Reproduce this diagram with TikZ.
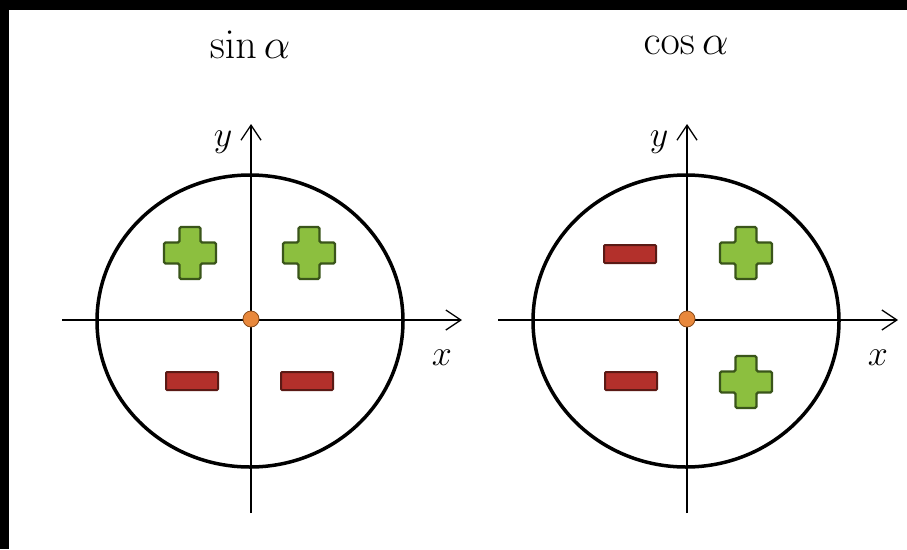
\RequirePackage{fix-cm}
\documentclass[tikz,border=0pt]{standalone}
\usepackage{amsmath}
\usepackage{tikz}
\usetikzlibrary{arrows.meta,positioning}
\definecolor{plusgreen}{HTML}{8CBF3F}
\definecolor{plusedge}{HTML}{3A551A}
\definecolor{minusred}{HTML}{B3302B}
\definecolor{minusedge}{HTML}{5A1A15}
\definecolor{origin}{HTML}{E8883C}
\definecolor{originedge}{HTML}{8A4A18}
\newcommand{\plusmark}[1]{\draw[plussign,shift={(#1)}] (-10.5,-26) -- (10.5,-26) -- (10.5,-10.5) -- (26,-10.5) -- (26,10.5) -- (10.5,10.5) -- (10.5,26) -- (-10.5,26) -- (-10.5,10.5) -- (-26,10.5) -- (-26,-10.5) -- (-10.5,-10.5) -- cycle;}

\begin{document}
\begin{tikzpicture}[x=1pt,y=-1pt,font=\fontsize{36}{40}\selectfont,
  axis/.style={line width=1.3pt,-{Straight Barb[length=15pt,width=20pt]}},
  rim/.style={line width=3.5pt},
  plussign/.style={fill=plusgreen,draw=plusedge,line width=2.2pt,rounded corners=1.5pt},
  minusbar/.style={fill=minusred,draw=minusedge,line width=2pt,minimum width=52pt,minimum height=18pt,inner sep=0pt,rounded corners=1pt},
  dot/.style={circle,fill=origin,draw=originedge,line width=0.8pt,minimum size=16pt,inner sep=0pt}]
\useasboundingbox (0,0) rectangle (907,549);
\fill[black] (0,0) rectangle (907,549);
\fill[white] (9,10) rectangle (907,549);
\foreach \cx/\fn/\id in {250/\sin/s,686/\cos/c}{
  \node (t\id) at (\cx,45) {\fontsize{42}{46}\selectfont$\fn\alpha$};
  \draw[rim] (\cx,321) ellipse [x radius=153,y radius=146];
  \coordinate (\id xl) at (\cx-188,320);
  \coordinate (\id xr) at (\cx+212,320);
  \coordinate (\id yb) at (\cx+1,513);
  \coordinate (\id yt) at (\cx+1,124);
  \draw[axis] (\id xl) -- (\id xr);
  \draw[axis] (\id yb) -- (\id yt);
  \node (\id x) at (\cx+192,358) {$x$};
  \node (\id y) at (\cx-27,142) {$y$};
  \node[dot] (\id o) at (\cx+1,319) {};
}
\plusmark{190,253}
\plusmark{309,253}
\node[minusbar] (sm3) at (192,381) {};
\node[minusbar] (sm4) at (307,381) {};
\node[minusbar] (cm2) at (630,254) {};
\plusmark{746,253}
\node[minusbar] (cm3) at (631,381) {};
\plusmark{746,382}
\end{tikzpicture}
\end{document}
